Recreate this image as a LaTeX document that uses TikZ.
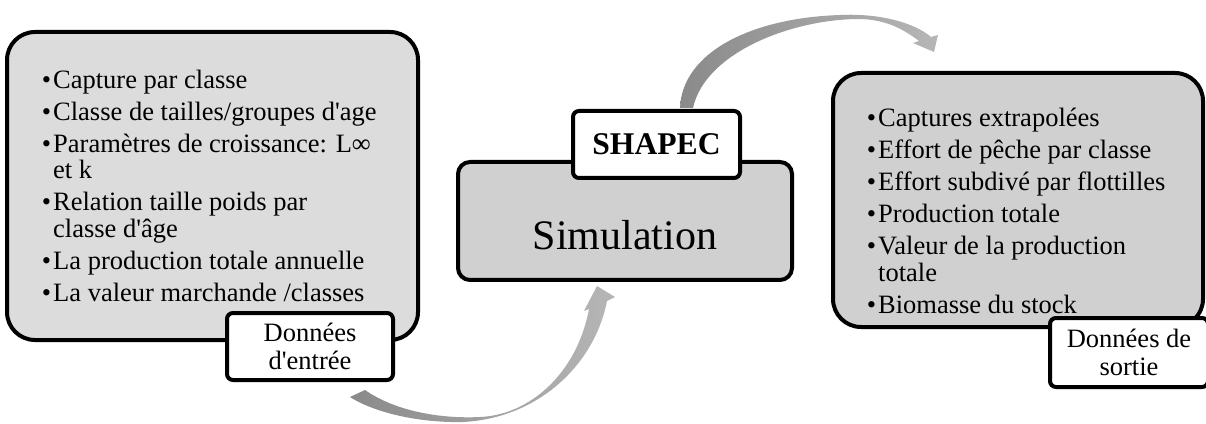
\documentclass[tikz,border=0pt]{standalone}
\usepackage{fontspec}
\setmainfont{Liberation Serif}[Ligatures=TeXOff]
\usepackage{tikz}
\usetikzlibrary{positioning}
\definecolor{BoxGrey}{HTML}{DCDCDC}
\definecolor{BoxGreyDark}{HTML}{D0D0D0}
\definecolor{ArrowDark}{HTML}{8A8A8A}
\definecolor{ArrowLight}{HTML}{B6B6B6}
\newcommand{\puce}{\makebox[11.3pt][l]{\textbullet}}
\newcommand{\suite}{\hspace*{11.3pt}}

\begin{document}
\begin{tikzpicture}[
		x=1pt,y=1pt,
		bloc/.style={draw,line width=4pt,fill=BoxGrey,rounded corners=28pt,inner sep=0pt},
		etiq/.style={draw,line width=4pt,fill=white,rounded corners=6pt,align=center,inner sep=0pt,font=\fontsize{26.5}{28}\selectfont},
		liste/.style={align=left,inner sep=0pt,font=\fontsize{26.5}{26.5}\selectfont},
		fleche/.style={left color=ArrowDark,right color=ArrowLight,draw=none}
	]
	\useasboundingbox (0,0) rectangle (1206,423);
	% fleches courbes
	\coordinate (aQueueExt) at (350,26);
	\coordinate (aQueueInt) at (365,33);
	\coordinate (aColInt) at (589,114);
	\coordinate (aColExt) at (607,122);
	\coordinate (aBarbeG) at (584,112);
	\coordinate (aBarbeD) at (615,126);
	\coordinate (aPointe) at (597,137);
	\shade[fleche] (aQueueInt) .. controls (395,12) and (440,4) .. (480,6) .. controls (530,8) and (577,50) .. (aColInt) -- (aBarbeG) -- (aPointe) -- (aBarbeD) -- (aColExt) .. controls (595,60) and (540,5) .. (463,1) .. controls (420,0) and (375,10) .. (aQueueExt) -- cycle;
	\coordinate (bQueueExt) at (680,315);
	\coordinate (bQueueInt) at (693,315);
	\coordinate (bColExt) at (931,386);
	\coordinate (bColInt) at (919,382);
	\coordinate (bBarbeD) at (938,388);
	\coordinate (bBarbeG) at (913,380);
	\coordinate (bPointe) at (934,371);
	\shade[fleche] (bQueueExt) .. controls (682,370) and (750,405) .. (840,408) .. controls (880,410) and (915,400) .. (bColExt) -- (bBarbeD) -- (bPointe) -- (bBarbeG) -- (bColInt) .. controls (898,398) and (880,404) .. (857,404) .. controls (790,403) and (705,370) .. (bQueueInt) -- cycle;
	% blocs
	\node[bloc,minimum width=411pt,minimum height=308pt] (entree) at (212.5,237) {};
	\node[bloc,fill=BoxGreyDark,rounded corners=12pt,minimum width=334pt,minimum height=118pt] (simul) at (625,202) {};
	\node[bloc,fill=BoxGreyDark,minimum width=370pt,minimum height=254pt] (sortie) at (1018,223) {};
	\node[liste,anchor=west] (entreetxt) at (41.7,237.5) {\puce Capture par classe\\[5.5pt]
		\puce Classe de tailles/groupes d'age\\[5.5pt]
		\puce Paramètres de croissance: L∞\\
		\suite et k\\[5.5pt]
		\puce Relation taille poids par\\
		\suite classe d'âge\\[5.5pt]
		\puce La production totale annuelle\\[5.5pt]
		\puce La valeur marchande /classes};
	\node[anchor=base,inner sep=0pt,font=\fontsize{42}{42}\selectfont] (simultxt) at (625,173) {Simulation};
	\node[liste,anchor=west] (sortietxt) at (866.7,212) {\puce Captures extrapolées\\[5.5pt]
		\puce Effort de pêche par classe\\[5.5pt]
		\puce Effort subdivé par flottilles\\[5.5pt]
		\puce Production totale\\[5.5pt]
		\puce Valeur de la production\\
		\suite totale\\[5.5pt]
		\puce Biomasse du stock};
	% etiquettes
	\node[etiq,font=\bfseries\fontsize{31.6}{32}\selectfont,minimum width=167pt,minimum height=67pt] (shapec) at (656.5,278.5) {SHAPEC};
	\node[etiq,minimum width=166pt,minimum height=67pt] (lblentree) at (310,76.5) {Données\\d'entrée};
	\node[etiq,minimum width=158pt,minimum height=69pt] (lblsortie) at (1129,70.5) {Données de\\sortie};
\end{tikzpicture}
\end{document}
